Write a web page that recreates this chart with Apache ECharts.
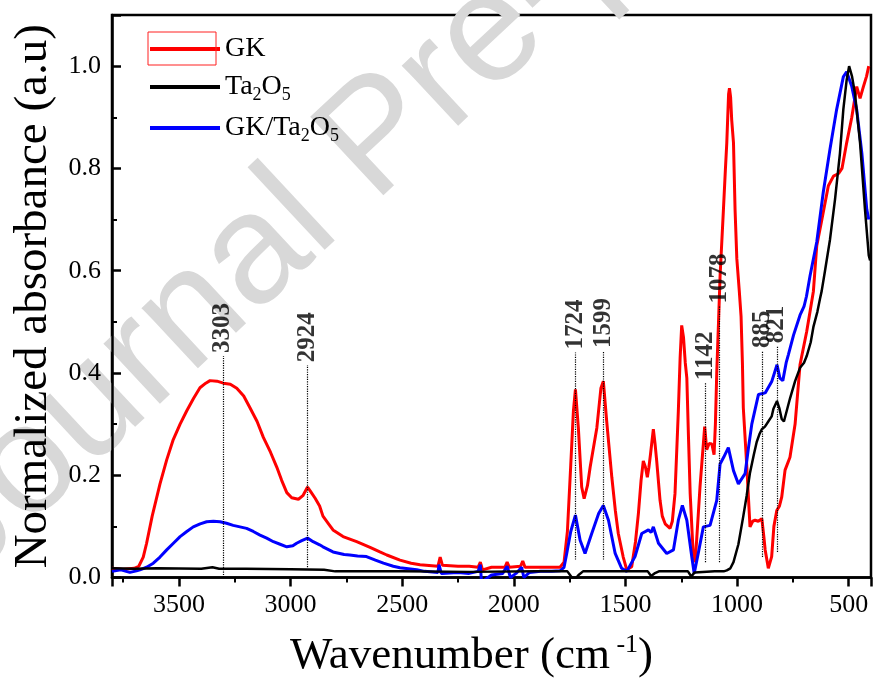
<!DOCTYPE html>
<html>
<head>
<meta charset="utf-8">
<script src="https://cdn.jsdelivr.net/npm/echarts@6/dist/echarts.min.js"></script>
<style>
  html, body { margin: 0; padding: 0; background: #fff; }
  #chart { width: 874px; height: 684px; }
</style>
</head>
<body>
<div id="chart"></div>
<script>
// FTIR spectra, [wavenumber, normalized absorbance]
const gkSpectrum = [
  [3800,0.018],[3750,0.016],[3700,0.018],[3680,0.022],[3660,0.04],[3645,0.067],[3620,0.12],[3585,0.183],
  [3555,0.23],[3527,0.268],[3495,0.3],[3465,0.326],[3435,0.35],[3406,0.371],[3380,0.38],[3361,0.385],
  [3330,0.384],[3301,0.38],[3270,0.378],[3241,0.37],[3210,0.355],[3182,0.332],[3150,0.305],[3122,0.274],
  [3090,0.245],[3062,0.216],[3040,0.19],[3017,0.166],[2995,0.156],[2965,0.153],[2945,0.16],[2924,0.177],
  [2910,0.168],[2890,0.155],[2870,0.14],[2855,0.12],[2830,0.105],[2810,0.093],[2765,0.08],[2704,0.07],
  [2644,0.059],[2600,0.05],[2569,0.044],[2510,0.034],[2460,0.028],[2420,0.025],[2340,0.022],[2330,0.04],
  [2320,0.024],[2250,0.022],[2200,0.022],[2160,0.02],[2150,0.03],[2140,0.015],[2100,0.02],[2040,0.02],
  [2030,0.03],[2020,0.02],[1970,0.022],[1960,0.032],[1950,0.02],[1900,0.02],[1850,0.02],[1793,0.02],
  [1775,0.03],[1760,0.09],[1745,0.22],[1733,0.326],[1724,0.368],[1711,0.293],[1696,0.177],[1685,0.154],
  [1670,0.18],[1658,0.216],[1628,0.293],[1610,0.37],[1599,0.384],[1584,0.306],[1561,0.196],[1545,0.13],
  [1532,0.086],[1510,0.04],[1494,0.015],[1472,0.021],[1455,0.07],[1442,0.125],[1430,0.19],[1420,0.228],
  [1410,0.215],[1402,0.196],[1395,0.215],[1388,0.24],[1375,0.29],[1367,0.26],[1360,0.228],[1345,0.151],
  [1335,0.12],[1322,0.105],[1300,0.096],[1290,0.11],[1278,0.164],[1270,0.25],[1263,0.326],[1255,0.43],
  [1248,0.493],[1240,0.47],[1232,0.42],[1225,0.39],[1218,0.28],[1210,0.164],[1196,0.041],[1188,0.03],
  [1181,0.073],[1166,0.177],[1145,0.295],[1136,0.25],[1125,0.262],[1113,0.261],[1103,0.24],[1097,0.3],
  [1091,0.4],[1083,0.5],[1076,0.59],[1061,0.72],[1052,0.8],[1046,0.85],[1038,0.945],[1034,0.957],
  [1029,0.94],[1024,0.895],[1016,0.85],[1009,0.72],[1001,0.623],[990,0.56],[982,0.51],[976,0.42],
  [972,0.332],[957,0.222],[942,0.099],[930,0.11],[919,0.112],[905,0.11],[889,0.115],[880,0.08],
  [874,0.054],[860,0.018],[852,0.03],[845,0.041],[835,0.1],[822,0.131],[810,0.14],[800,0.157],
  [785,0.21],[763,0.235],[740,0.3],[718,0.416],[688,0.481],[673,0.52],[658,0.56],[643,0.649],
  [620,0.7],[591,0.766],[568,0.785],[545,0.79],[530,0.8],[509,0.85],[486,0.9],[464,0.96],
  [449,0.937],[434,0.96],[420,0.98],[410,1.0]
];

const ta2o5Spectrum = [
  [3800,0.018],[3700,0.017],[3600,0.018],[3400,0.017],[3350,0.02],[3320,0.017],[3200,0.017],[3000,0.016],
  [2850,0.015],[2800,0.012],[2500,0.012],[2200,0.011],[1900,0.012],[1760,0.012],[1740,0.0],[1725,-0.003],
  [1710,0.005],[1690,0.012],[1500,0.012],[1400,0.012],[1385,0.003],[1370,0.008],[1350,0.012],[1220,0.012],
  [1205,0.002],[1190,0.01],[1100,0.012],[1060,0.012],[1046,0.014],[1030,0.018],[1016,0.03],[994,0.065],
  [972,0.12],[957,0.16],[942,0.205],[925,0.24],[912,0.265],[900,0.28],[889,0.29],[875,0.295],
  [860,0.305],[845,0.315],[837,0.33],[821,0.345],[810,0.33],[800,0.31],[790,0.305],[775,0.33],
  [763,0.35],[740,0.384],[718,0.41],[700,0.42],[688,0.433],[670,0.46],[658,0.49],[640,0.52],
  [628,0.546],[621,0.56],[606,0.6],[584,0.66],[561,0.74],[539,0.83],[524,0.915],[509,0.973],
  [498,1.0],[485,0.98],[472,0.947],[449,0.85],[427,0.72],[410,0.63],[404,0.62]
];

const gkTa2o5Spectrum = [
  [3800,0.012],[3760,0.015],[3720,0.01],[3690,0.013],[3675,0.015],[3645,0.02],[3615,0.028],[3585,0.04],
  [3555,0.054],[3525,0.067],[3495,0.08],[3465,0.09],[3436,0.099],[3405,0.105],[3376,0.109],[3346,0.11],
  [3316,0.109],[3287,0.106],[3257,0.102],[3227,0.099],[3197,0.096],[3167,0.09],[3137,0.083],[3107,0.077],
  [3077,0.07],[3047,0.065],[3017,0.06],[2990,0.062],[2973,0.067],[2950,0.072],[2924,0.077],[2899,0.07],
  [2870,0.064],[2855,0.06],[2810,0.05],[2760,0.045],[2735,0.044],[2700,0.042],[2660,0.041],[2620,0.034],
  [2584,0.028],[2540,0.022],[2510,0.019],[2435,0.015],[2400,0.012],[2340,0.01],[2335,0.025],[2325,0.008],
  [2250,0.01],[2200,0.008],[2160,0.012],[2150,0.025],[2145,-0.008],[2130,-0.005],[2100,0.005],[2050,0.008],
  [2030,0.022],[2015,0.0],[1990,0.008],[1965,0.02],[1955,0.0],[1930,0.01],[1880,0.012],[1830,0.012],
  [1793,0.013],[1775,0.02],[1763,0.047],[1745,0.09],[1724,0.122],[1703,0.073],[1681,0.047],[1651,0.086],
  [1620,0.125],[1599,0.141],[1576,0.112],[1546,0.047],[1517,0.018],[1494,0.012],[1457,0.041],[1427,0.086],
  [1397,0.093],[1385,0.088],[1375,0.099],[1352,0.067],[1315,0.047],[1285,0.054],[1263,0.112],[1245,0.141],
  [1225,0.112],[1203,0.041],[1192,0.008],[1174,0.047],[1151,0.099],[1121,0.102],[1091,0.151],[1076,0.222],
  [1060,0.235],[1039,0.254],[1016,0.209],[994,0.183],[964,0.203],[950,0.25],[934,0.3],[904,0.358],
  [885,0.36],[874,0.361],[844,0.384],[821,0.416],[808,0.39],[795,0.385],[780,0.42],[770,0.436],
  [747,0.474],[718,0.513],[700,0.53],[689,0.55],[673,0.59],[643,0.656],[614,0.753],[584,0.837],
  [554,0.915],[524,0.979],[509,0.989],[486,0.96],[464,0.915],[441,0.83],[419,0.72],[410,0.7]
];

// peak markers: wavenumber, where the dotted line starts and ends
const peakWavenumbers = [3303, 2924, 1724, 1599, 1142, 1078, 885, 821];
const peakLineTop = [0.433, 0.415, 0.44, 0.443, 0.38, 0.53, 0.443, 0.452];
const peakLineBottom = [0, 0.02, 0.035, 0.035, 0.03, 0.03, 0.04, 0.05];

const serif = 'Liberation Serif';

const chart = echarts.init(document.getElementById('chart'));

const option = {
  animation: false,
  backgroundColor: '#fff',
  graphic: [
    {
      // "Journal Pre-proof" watermark
      type: 'text',
      x: -8, y: 608,
      rotation: 43 * Math.PI / 180,
      z: 0,
      style: {
        text: 'Journal Pre-proof',
        font: '156px "Liberation Sans"',
        fill: '#d8d8d8',
        textAlign: 'left',
        textVerticalAlign: 'bottom'
      }
    },
    {
      // selection box round the GK legend line
      type: 'rect',
      z: 100,
      shape: { x: 148, y: 32, width: 68, height: 33 },
      style: { fill: 'none', stroke: '#ff2020', lineWidth: 1 }
    }
  ],
  grid: {
    left: 112, right: 3, top: 15, bottom: 103,
    show: true, borderColor: '#000', borderWidth: 2.5
  },
  legend: {
    orient: 'vertical',
    left: 145, top: 30,
    itemWidth: 70, itemHeight: 4,
    itemGap: 10,
    icon: 'rect',
    data: ['GK', 'Ta2O5', 'GK/Ta2O5'],
    formatter: function (name) {
      return name.replace(/2/g, '{sub|2}').replace(/5/g, '{sub|5}');
    },
    textStyle: {
      fontFamily: serif, fontSize: 28, color: '#000',
      rich: {
        sub: { fontFamily: serif, fontSize: 18, color: '#000', padding: [16, 0, 0, 0] }
      }
    }
  },
  xAxis: {
    type: 'value',
    inverse: true,
    min: 400, max: 3800,
    splitNumber: 7,
    name: '{t|Wavenumber (cm}{s| -1}{t|)}',
    nameLocation: 'middle',
    nameGap: 55,
    nameTextStyle: {
      padding: [0, 40, 0, 0],
      rich: {
        t: { fontFamily: serif, fontSize: 45, color: '#000' },
        s: { fontFamily: serif, fontSize: 26, color: '#000', padding: [0, 0, 22, 0] }
      }
    },
    axisLine: { lineStyle: { color: '#000', width: 2.5 } },
    axisTick: { inside: false, length: 9, lineStyle: { color: '#000', width: 2.5 } },
    minorTick: { show: true, splitNumber: 2, length: 5, lineStyle: { color: '#000', width: 2 } },
    axisLabel: {
      showMinLabel: false, showMaxLabel: false,
      margin: 15,
      fontFamily: serif, fontSize: 26, color: '#000',
      formatter: function (v) { return String(v); }
    },
    splitLine: { show: false }
  },
  yAxis: {
    type: 'value',
    min: 0, max: 1.1,
    interval: 0.2,
    name: 'Normalized absorbance (a.u)',
    nameLocation: 'middle',
    nameGap: 51,
    nameTextStyle: { fontFamily: serif, fontSize: 47, color: '#000' },
    axisLine: { lineStyle: { color: '#000', width: 2.5 } },
    axisTick: { inside: true, length: 9, lineStyle: { color: '#000', width: 2.5 } },
    minorTick: { show: true, splitNumber: 2, length: 5, lineStyle: { color: '#000', width: 2 } },
    axisLabel: {
      showMaxLabel: false,
      margin: 11,
      fontFamily: serif, fontSize: 26, color: '#000',
      formatter: function (v) { return v.toFixed(1); }
    },
    splitLine: { show: false }
  },
  series: [
    {
      name: 'GK', type: 'line', data: gkSpectrum,
      showSymbol: false, symbol: 'none', z: 2,
      itemStyle: { color: '#ff0000' },
      lineStyle: { color: '#ff0000', width: 3 }
    },
    {
      name: 'GK/Ta2O5', type: 'line', data: gkTa2o5Spectrum,
      showSymbol: false, symbol: 'none', z: 3,
      itemStyle: { color: '#0000ff' },
      lineStyle: { color: '#0000ff', width: 3 }
    },
    {
      name: 'Ta2O5', type: 'line', data: ta2o5Spectrum,
      showSymbol: false, symbol: 'none', z: 4,
      itemStyle: { color: '#000' },
      lineStyle: { color: '#000', width: 2.5 }
    },
    {
      // peak labels with their dotted drop lines
      name: 'peaks', type: 'scatter',
      data: peakWavenumbers.map((w, i) => [w, peakLineTop[i]]),
      symbolSize: 0, z: 5, silent: true,
      label: {
        show: true, position: 'top', distance: 3,
        rotate: 90, align: 'left', verticalAlign: 'middle',
        fontFamily: serif, fontSize: 25, fontWeight: 'bold', color: '#000',
        formatter: p => String(p.value[0])
      },
      markLine: {
        silent: true, symbol: 'none',
        label: { show: false },
        lineStyle: { color: '#000', type: 'dotted', width: 1.2 },
        data: peakWavenumbers.map((w, i) => [
          { coord: [w, peakLineBottom[i]] },
          { coord: [w, peakLineTop[i]] }
        ])
      }
    }
  ]
};

chart.setOption(option);
</script>
</body>
</html>
